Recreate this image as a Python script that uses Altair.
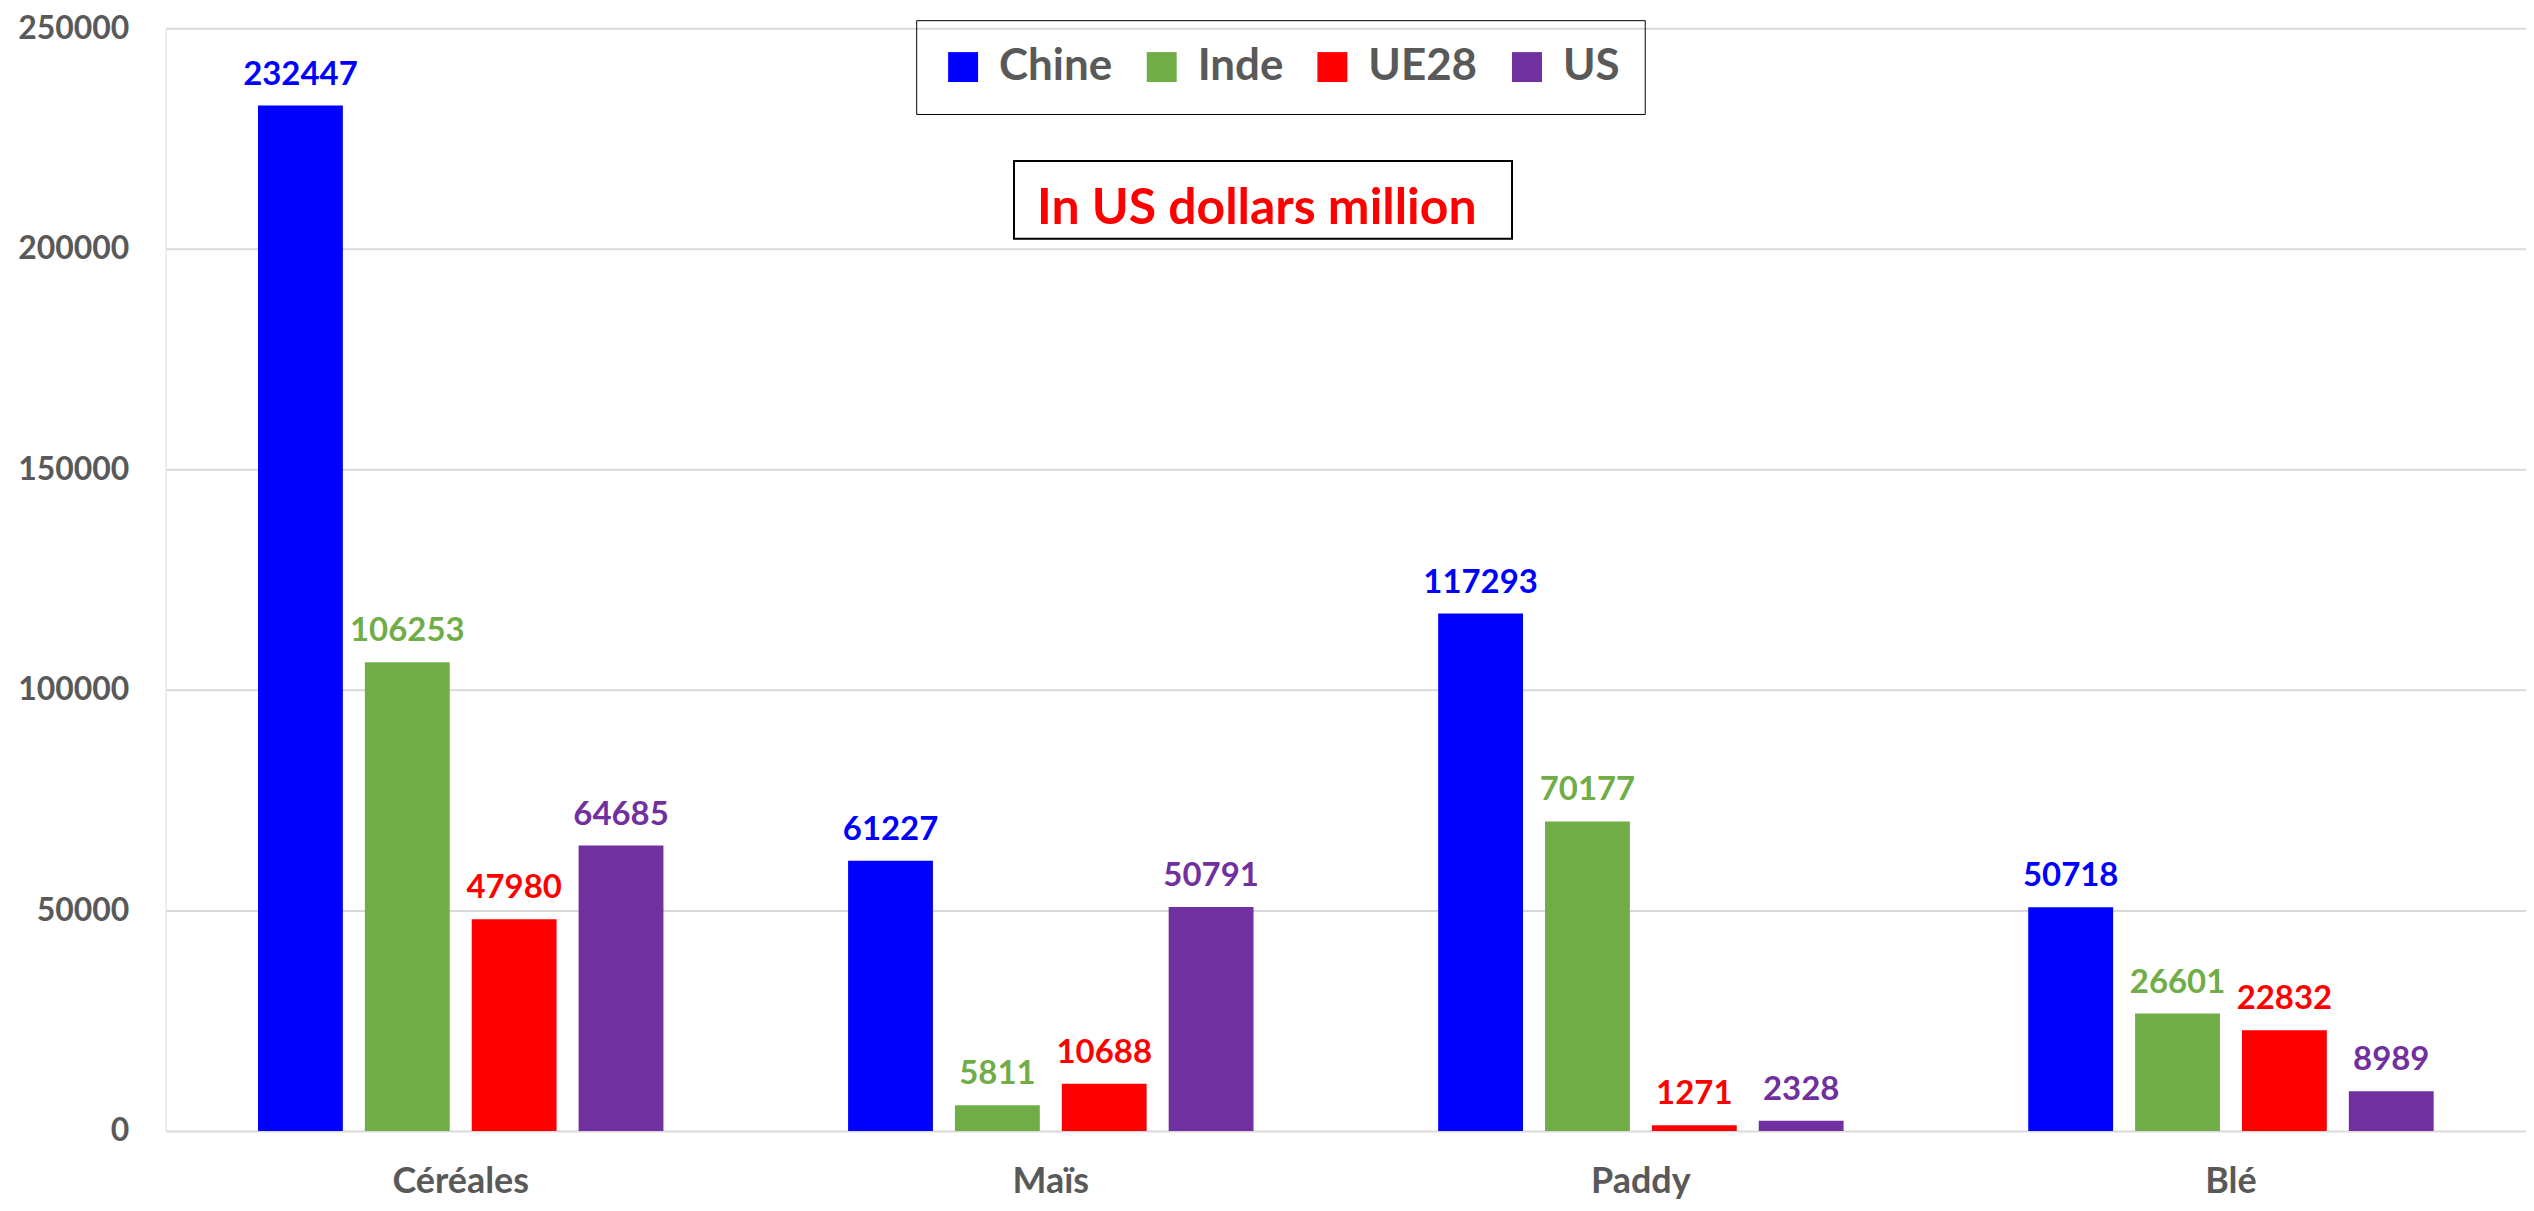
import altair as alt
import pandas as pd

categories = ["Céréales", "Maïs", "Paddy", "Blé"]
countries = ["Chine", "Inde", "UE28", "US"]
colors = ["#0000FF", "#70AD47", "#FF0000", "#7030A0"]
chine = [232447, 61227, 117293, 50718]
inde = [106253, 5811, 70177, 26601]
ue28 = [47980, 10688, 1271, 22832]
us = [64685, 50791, 2328, 8989]
y_ticks = [0, 50000, 100000, 150000, 200000, 250000]
note = "In US dollars million"

series = {"Chine": chine, "Inde": inde, "UE28": ue28, "US": us}
rows = []
for c in countries:
    for cat, v in zip(categories, series[c]):
        rows.append({"cat": cat, "country": c, "value": v})
df = pd.DataFrame(rows)
note_df = pd.DataFrame({"t": [note]})

FONT = "Lato"
GRAY = "#595959"

x_enc = alt.X("cat:N", sort=categories, title=None,
              scale=alt.Scale(paddingInner=0, paddingOuter=0),
              axis=alt.Axis(labelAngle=0, labelFont=FONT, labelFontSize=36,
                            labelFontWeight="bold", labelColor=GRAY,
                            labelPadding=34, domain=False, ticks=False, grid=False))
xo_enc = alt.XOffset("country:N", sort=countries,
                     scale=alt.Scale(paddingInner=0.206, paddingOuter=0.864))
y_enc = alt.Y("value:Q", title=None,
              scale=alt.Scale(domain=[0, 250000], nice=False),
              axis=alt.Axis(values=y_ticks, format="d", labelFont=FONT,
                            labelFontSize=32, labelFontWeight="bold",
                            labelColor=GRAY, labelPadding=37, domain=False,
                            ticks=False, grid=True, gridColor="#d9d9d9",
                            gridWidth=2))
color_scale = alt.Scale(domain=countries, range=colors)

bars = alt.Chart(df).mark_bar().encode(
    x=x_enc,
    xOffset=xo_enc,
    y=y_enc,
    color=alt.Color("country:N", scale=color_scale, sort=countries,
                    legend=alt.Legend(title=None, orient="none",
                                      legendX=752, legendY=-8,
                                      direction="horizontal",
                                      symbolType="square", symbolSize=900,
                                      symbolStrokeWidth=0, symbolOpacity=1,
                                      labelFont=FONT, labelFontSize=44,
                                      labelFontWeight="bold", labelColor=GRAY,
                                      labelOffset=14, columnPadding=27,
                                      padding=25, strokeColor="black",
                                      labelLimit=400)),
)

labels = alt.Chart(df).mark_text(
    font=FONT, fontSize=33, fontWeight="bold", baseline="alphabetic",
    align="center", dy=-21,
).encode(
    x=alt.X("cat:N", sort=categories),
    xOffset=alt.XOffset("country:N", sort=countries),
    y=alt.Y("value:Q"),
    text=alt.Text("value:Q", format="d"),
    color=alt.Color("country:N", scale=color_scale, sort=countries, legend=None),
)

note_box = alt.Chart(note_df).mark_rect(
    fill="white", stroke="black", strokeWidth=2
).encode(
    x=alt.value(850), x2=alt.value(1349), y=alt.value(133), y2=alt.value(211)
)

note_text = alt.Chart(note_df).mark_text(
    font=FONT, fontSize=50, fontWeight="bold", color="#FF0000",
    align="left", baseline="alphabetic",
).encode(
    x=alt.value(873), y=alt.value(196), text="t:N"
)

chart = alt.layer(bars, labels, note_box, note_text).properties(
    width=2365, height=1105,
    autosize=alt.AutoSizeParams(type="none"),
    padding={"left": 158, "top": 19, "right": 0, "bottom": 71},
).configure_view(stroke=None).configure(background="white")

chart.save("out.html", embed_options={"renderer": "svg", "actions": False})
